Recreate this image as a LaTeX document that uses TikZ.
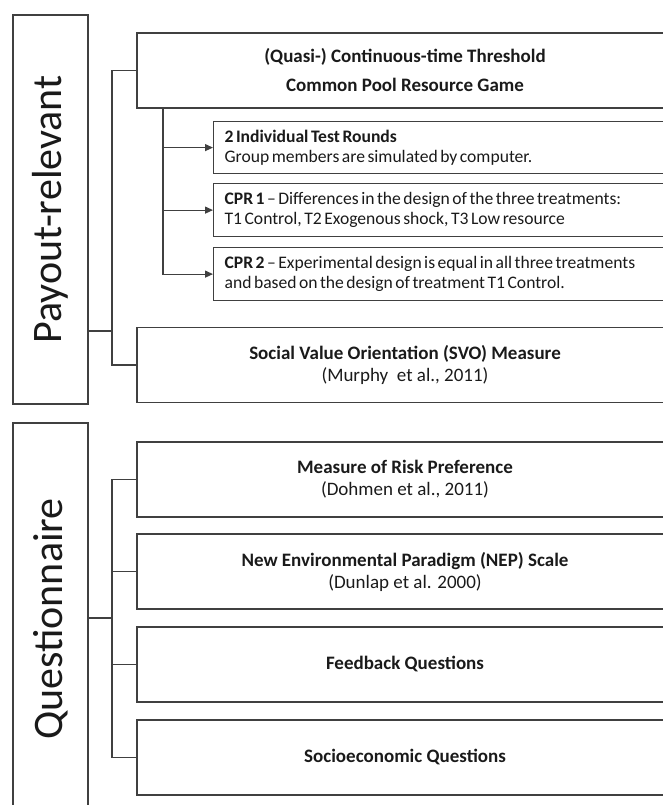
\documentclass[tikz,border=0pt]{standalone}
\usepackage{fontspec}
\setmainfont{Carlito}
\usepackage{graphicx}
\usetikzlibrary{arrows.meta}
\definecolor{ln}{HTML}{404040}
\definecolor{tx}{HTML}{1A1A1A}
\newcommand{\tightsp}{\spaceskip=2.5pt plus 0.5pt\relax\xspaceskip=2.9pt\relax}
\begin{document}
\begin{tikzpicture}[x=1pt,y=-1pt,
  box/.style={draw=ln, line width=1.2pt, rectangle, inner sep=0pt, text=tx, font=\fontsize{19}{22}\selectfont},
  bigbox/.style={box, minimum width=536pt, minimum height=75pt, align=center},
  subbox/.style={box, anchor=north west, minimum width=480pt, text width=458pt, align=left, font=\fontsize{17.6}{20}\selectfont},
  side/.style={box, minimum width=75pt, font=\fontsize{42}{50}\selectfont},
  conn/.style={draw=ln, line width=1.2pt},
  arr/.style={conn, -{Triangle[length=8pt,width=7pt]}}]
\useasboundingbox (0,0) rectangle (662,805);

% side boxes
\node[side, minimum height=389pt] (pay) at (50.5,209.5) {\rotatebox{90}{Payout-relevant}};
\node[side, minimum height=392pt] (que) at (50.5,619) {\rotatebox{90}{Questionnaire}};

% payout-relevant boxes
\node[bigbox] (game) at (405,70.5) {\textbf{(Quasi-) Continuous-time Threshold}\\[7pt]\textbf{Common Pool Resource Game}};
\node[subbox, minimum height=52pt] (s1) at (213,121) {\tightsp\textbf{2 Individual Test Rounds}\\Group members are simulated by computer.};
\node[subbox, minimum height=53pt] (s2) at (213,183) {\tightsp\textbf{CPR 1} – Differences in the design of the three treatments:\\T1 Control, T2 Exogenous shock, T3 Low resource};
\node[subbox, minimum height=53pt] (s3) at (213,247) {\tightsp\textbf{CPR 2} – Experimental design is equal in all three treatments\\and based on the design of treatment T1 Control.};
\node[bigbox] (svo) at (405,365) {\textbf{Social Value Orientation (SVO) Measure}\\(Murphy\ \ et al., 2011)};

% questionnaire boxes
\node[bigbox] (q1) at (405,479.5) {\textbf{Measure of Risk Preference}\\(Dohmen et al., 2011)};
\node[bigbox] (q2) at (405,571.5) {\textbf{New Environmental Paradigm (NEP) Scale}\\(Dunlap et al. 2000)};
\node[bigbox] (q3) at (405,664.5) {\textbf{Feedback Questions}};
\node[bigbox] (q4) at (405,757.5) {\textbf{Socioeconomic Questions}};

% connectors payout-relevant
\coordinate (pj) at (112,331);
\draw[conn] (pay.east |- pj) -- (pj);
\draw[conn] (game.west) -| (pj) |- (svo.west);
\coordinate (gs) at (163,108);
\draw[arr] (gs) |- (s3.west);
\draw[arr] (gs |- s1.west) -- (s1.west);
\draw[arr] (gs |- s2.west) -- (s2.west);

% connectors questionnaire
\coordinate (qj) at (112,618);
\draw[conn] (que.east |- qj) -- (qj);
\draw[conn] (q1.west) -| (qj) |- (q4.west);
\draw[conn] (q2.west) -- (q2.west -| qj);
\draw[conn] (q3.west) -- (q3.west -| qj);
\end{tikzpicture}
\end{document}
